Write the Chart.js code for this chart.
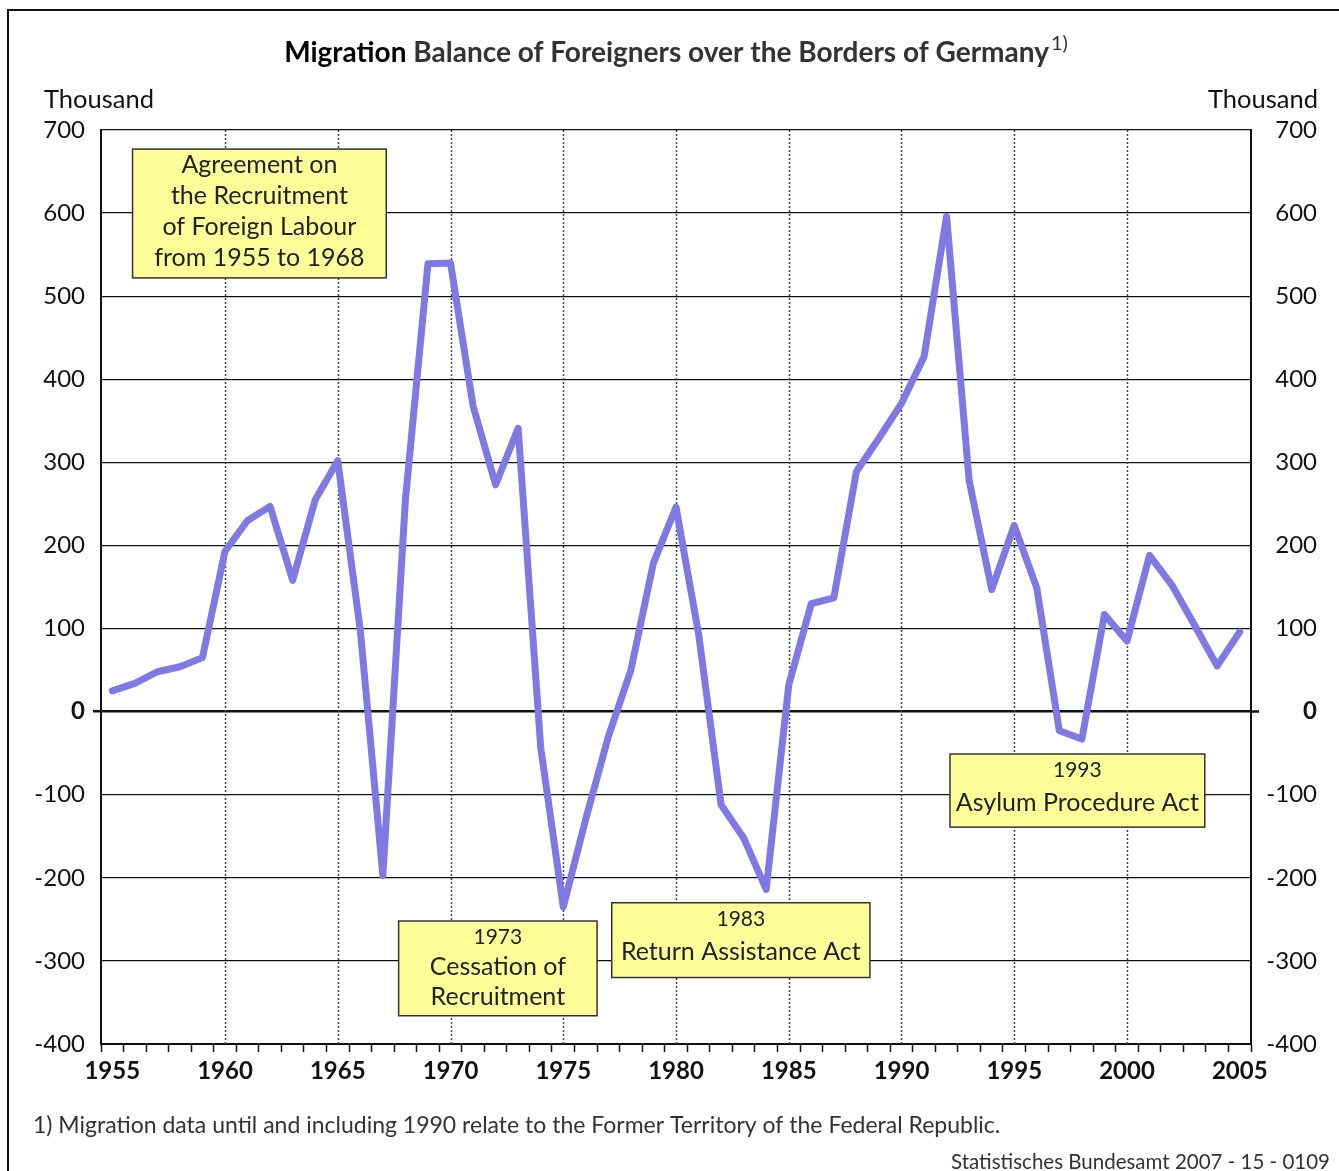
<!DOCTYPE html>
<html>
<head>
<meta charset="utf-8">
<title>Migration Balance of Foreigners</title>
<script src="https://cdn.jsdelivr.net/npm/chart.js@4.4.1/dist/chart.umd.min.js"></script>
<style>
  body { margin: 0; background: #fff; }
  #wrap { width: 1339px; height: 1171px; position: relative; }
</style>
</head>
<body>
<div id="wrap"><canvas id="migration-chart"></canvas></div>
<script>
// years 1955..2005
const years = [];
for (let y = 1955; y <= 2005; y++) years.push(y);

// migration balance of foreigners, thousand
const balance = [
  25, 34, 48, 54, 65, 193, 230, 247, 158, 255,
  302, 98, -197, 255, 539, 540, 368, 273, 341, -43,
  -235, -129, -30, 50, 179, 246, 94, -112, -152, -214,
  32, 130, 137, 289, 329, 371, 427, 596, 278, 147,
  224, 149, -23, -33, 117, 85, 188, 152, 104, 55,
  96
];

const yTicks = [700, 600, 500, 400, 300, 200, 100, 0, -100, -200, -300, -400];

// annotation boxes: year span and value span, text lines
const notes = [
  { from: 1955.9, to: 1967.15, top: 677, bottom: 522, gap: 31,
    lines: ['Agreement on', 'the Recruitment', 'of Foreign Labour', 'from 1955 to 1968'], small: [] },
  { from: 1967.7, to: 1976.5, top: -252, bottom: -366, gap: 30,
    lines: ['1973', 'Cessation of', 'Recruitment'], small: [0] },
  { from: 1977.15, to: 1988.6, top: -230, bottom: -320, gap: 33,
    lines: ['1983', 'Return Assistance Act'], small: [0] },
  { from: 1992.15, to: 2003.45, top: -51, bottom: -139, gap: 33,
    lines: ['1993', 'Asylum Procedure Act'], small: [0] },
];

const FONT = 'Lato, "Noto Sans", sans-serif';

const decorPlugin = {
  id: 'decor',
  beforeDatasetsDraw(chart) {
    const { ctx, chartArea, scales } = chart;
    ctx.save();
    ctx.strokeStyle = '#444';
    ctx.lineWidth = 1.5;
    ctx.setLineDash([2, 2]);
    years.forEach((yr, i) => {
      if (yr % 5 !== 0 || yr === 1955 || yr === 2005) return;
      const x = Math.round(scales.x.getPixelForValue(i)) + 0.5;
      ctx.beginPath();
      ctx.moveTo(x, chartArea.top);
      ctx.lineTo(x, chartArea.bottom);
      ctx.stroke();
    });
    ctx.restore();
  },
  afterDatasetsDraw(chart) {
    const { ctx, scales } = chart;
    ctx.save();
    notes.forEach(n => {
      const x0 = scales.x.getPixelForValue(n.from - 1955);
      const x1 = scales.x.getPixelForValue(n.to - 1955);
      const y0 = scales.y.getPixelForValue(n.top);
      const y1 = scales.y.getPixelForValue(n.bottom);
      ctx.fillStyle = '#ffff99';
      ctx.fillRect(x0, y0, x1 - x0, y1 - y0);
      ctx.strokeStyle = '#333';
      ctx.lineWidth = 1.5;
      ctx.strokeRect(x0, y0, x1 - x0, y1 - y0);
      ctx.fillStyle = '#222';
      ctx.textAlign = 'center';
      ctx.textBaseline = 'middle';
      const cx = (x0 + x1) / 2;
      n.lines.forEach((t, i) => {
        ctx.font = (n.small.includes(i) ? '21px ' : '25px ') + FONT;
        ctx.fillText(t, cx, y0 + 16 + i * n.gap);
      });
    });
    ctx.restore();
  },
  afterDraw(chart) {
    const { ctx, width, height } = chart;
    ctx.save();
    // frame
    ctx.strokeStyle = '#111';
    ctx.lineWidth = 2;
    ctx.beginPath();
    ctx.moveTo(width, 10);
    ctx.lineTo(8, 10);
    ctx.lineTo(8, height);
    ctx.stroke();

    // title with mixed weights
    const t1 = 'Migration';
    const t2 = ' Balance of Foreigners over the Borders of Germany';
    ctx.textBaseline = 'alphabetic';
    ctx.font = 'bold 28px ' + FONT;
    const w1 = ctx.measureText(t1).width;
    const w2 = ctx.measureText(t2).width;
    ctx.font = '20px ' + FONT;
    const w3 = ctx.measureText('1)').width;
    let x = 675 - (w1 + w2 + w3) / 2;
    ctx.textAlign = 'left';
    ctx.font = 'bold 28px ' + FONT;
    ctx.fillStyle = '#000';
    ctx.fillText(t1, x, 62);
    x += w1;
    ctx.fillStyle = '#333';
    ctx.fillText(t2, x, 62);
    x += w2 + 2;
    ctx.font = '20px ' + FONT;
    ctx.fillText('1)', x, 50);

    // unit labels
    ctx.font = '25.5px ' + FONT;
    ctx.fillStyle = '#111';
    ctx.fillText('Thousand', 44, 108);
    ctx.textAlign = 'right';
    ctx.fillText('Thousand', 1318, 108);

    // footnote and source
    ctx.textAlign = 'left';
    ctx.fillStyle = '#333';
    ctx.font = '23px ' + FONT;
    ctx.fillText('1) Migration data until and including 1990 relate to the Former Territory of the Federal Republic.', 33, 1133);
    ctx.textAlign = 'right';
    ctx.font = '20.5px ' + FONT;
    ctx.fillText('Statistisches Bundesamt 2007 - 15 - 0109', 1330, 1169);
    ctx.restore();
  }
};

const isZero = (c) => c.tick && c.tick.value === 0;

const ctx = document.getElementById('migration-chart').getContext('2d');
const migrationChart = new Chart(ctx, {
  type: 'line',
  data: {
    labels: years,
    datasets: [{
      label: 'Migration balance',
      data: balance,
      borderColor: '#8079e4',
      borderWidth: 7,
      pointRadius: 0,
      tension: 0,
      borderCapStyle: 'round',
      borderJoinStyle: 'round',
      clip: false,
    }],
  },
  options: {
    responsive: true,
    maintainAspectRatio: false,
    animation: false,
    layout: { padding: { top: 130, left: 0, right: 22, bottom: 0 } },
    plugins: {
      legend: { display: false },
      tooltip: { enabled: false },
    },
    scales: {
      x: {
        type: 'category',
        offset: true,
        grid: {
          offset: true,
          drawOnChartArea: false,
          tickLength: 8,
          tickColor: '#111',
          tickWidth: 1.5,
        },
        border: { color: '#111', width: 2 },
        ticks: {
          autoSkip: false,
          maxRotation: 0,
          padding: 5,
          color: '#111',
          font: { family: FONT, size: 24, weight: 'bold' },
          callback: (val, i) => (years[i] % 5 === 0 ? String(years[i]) : ''),
        },
        afterFit: (s) => { s.height = 127; },
      },
      y: {
        position: 'left',
        min: -400,
        max: 700,
        afterBuildTicks: (s) => { s.ticks = yTicks.map(v => ({ value: v })); },
        grid: {
          color: '#111',
          lineWidth: (c) => (isZero(c) ? 2.5 : 1.3),
          tickLength: 8,
          tickColor: (c) => (isZero(c) ? '#111' : 'rgba(0,0,0,0)'),
          tickWidth: 2.5,
        },
        border: { color: '#111', width: 2 },
        ticks: {
          padding: 8,
          color: '#111',
          font: (c) => ({ family: FONT, size: 24, weight: isZero(c) ? 'bold' : 'normal' }),
        },
        afterFit: (s) => { s.width = 101; },
      },
      y2: {
        position: 'right',
        min: -400,
        max: 700,
        afterBuildTicks: (s) => { s.ticks = yTicks.map(v => ({ value: v })); },
        grid: {
          drawOnChartArea: false,
          tickLength: 8,
          tickColor: (c) => (isZero(c) ? '#111' : 'rgba(0,0,0,0)'),
          tickWidth: 2.5,
        },
        border: { color: '#111', width: 2 },
        ticks: {
          crossAlign: 'far',
          padding: 8,
          color: '#111',
          font: (c) => ({ family: FONT, size: 24, weight: isZero(c) ? 'bold' : 'normal' }),
        },
        afterFit: (s) => { s.width = 66; },
      },
    },
  },
  plugins: [decorPlugin],
});
</script>
</body>
</html>
